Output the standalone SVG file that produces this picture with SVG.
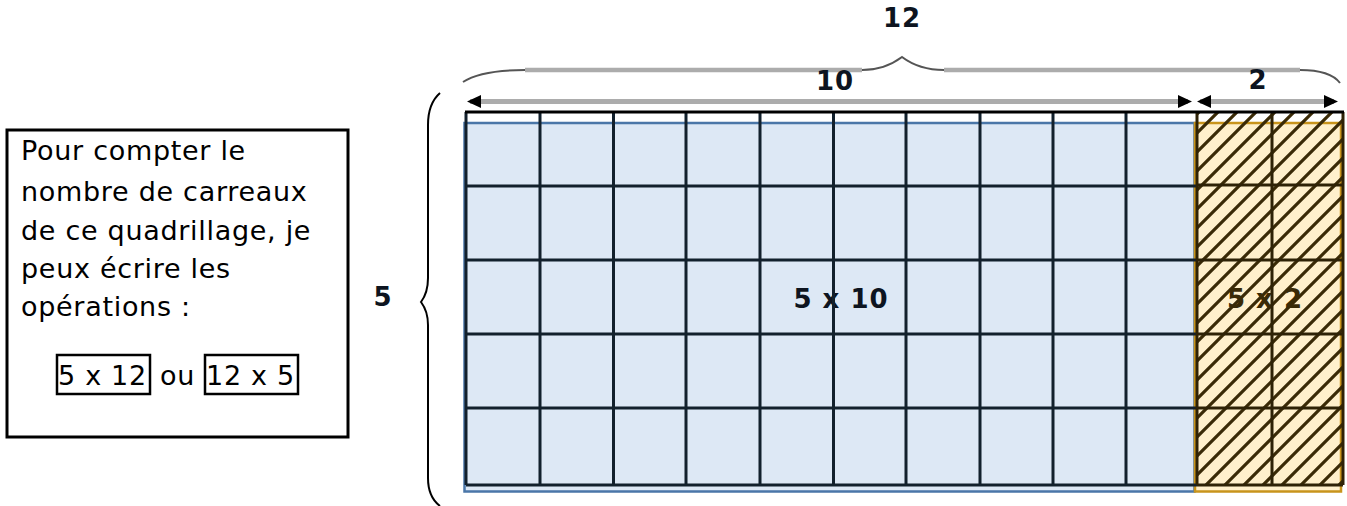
<svg xmlns="http://www.w3.org/2000/svg" width="1347" height="506" viewBox="0 0 1347 506">
<style>
.t{font-family:"DejaVu Sans",Verdana,sans-serif;font-size:27px;fill:#000;letter-spacing:0.7px}
.b{font-family:"DejaVu Sans",Verdana,sans-serif;font-size:26px;font-weight:bold;fill:#0d1420;letter-spacing:1px}
.g{stroke:#12202c;stroke-width:3;fill:none}
.gh{stroke:#2e2206;stroke-width:3;fill:none}
.dim{stroke:#acacac;stroke-width:5;fill:none}
.ah{fill:#000}
</style>
<defs>
<pattern id="hatch" patternUnits="userSpaceOnUse" width="19" height="19">
<path d="M-3,3 L3,-3 M0,19 L19,0 M16,22 L22,16" stroke="#3a2a06" stroke-width="3.2"/>
</pattern>
</defs>
<g id="textbox">
<rect x="7" y="130" width="341" height="307" fill="#fff" stroke="#000" stroke-width="3"/>
<text class="t" x="21" y="160">Pour compter le</text>
<text class="t" x="21" y="201">nombre de carreaux</text>
<text class="t" x="21" y="240">de ce quadrillage, je</text>
<text class="t" x="21" y="278">peux écrire les</text>
<text class="t" x="21" y="316">opérations :</text>
<rect x="57" y="355" width="93" height="39" fill="none" stroke="#000" stroke-width="2.5"/>
<text class="t" x="58" y="385">5 x 12</text>
<text class="t" x="160" y="385">ou</text>
<rect x="205" y="355" width="93" height="39" fill="none" stroke="#000" stroke-width="2.5"/>
<text class="t" x="206" y="385">12 x 5</text>
</g>
<g id="blue-area">
<rect x="464.5" y="123" width="730" height="368.5" fill="#dde8f5" stroke="#4a76a8" stroke-width="2.5"/>
<text class="b" x="841" y="308" text-anchor="middle">5 x 10</text>
</g>
<g id="hatched-area">
<rect x="1195" y="123" width="146" height="368.5" fill="#fff0cc" stroke="#c8941c" stroke-width="2.5"/>
<text class="b" x="1265" y="308" text-anchor="middle" style="fill:#3a2a06">5 x 2</text>
<rect x="1197" y="112" width="146" height="373" fill="url(#hatch)"/>
</g>
<g id="grid">
<path class="g" d="M466,112 V485 M540,112 V485 M613.5,112 V485 M686,112 V485 M760,112 V485 M833.5,112 V485 M906,112 V485 M980,112 V485 M1053,112 V485 M1126,112 V485"/>
<path class="g" d="M466,186 H1197 M466,260 H1197 M466,334 H1197 M466,408 H1197 M466,485 H1197"/>
<path class="gh" d="M1197,112 V485 M1272,112 V485 M1343,112 V485 M1197,185 H1343 M1197,260 H1343 M1197,334 H1343 M1197,408 H1343 M1197,485 H1343"/>
<path d="M465,112 H1344" stroke="#000" stroke-width="3"/>
</g>
<g id="connectors">
<path class="dim" d="M470,101.5 H1188"/>
<path class="ah" d="M467,101.5 L481,95 L481,108 Z"/>
<path class="ah" d="M1192,101.5 L1178,95 L1178,108 Z"/>
<path class="dim" d="M1200,101.5 H1334"/>
<path class="ah" d="M1197,101.5 L1211,95 L1211,108 Z"/>
<path class="ah" d="M1338,101.5 L1324,95 L1324,108 Z"/>
<path d="M525,70 H862 M944,70 H1300" stroke="#acacac" stroke-width="4.5" fill="none"/>
<path d="M463,82 C475,74 498,70 525,70 M862,70 C880,70 894,63 902,57 C910,63 924,70 944,70 M1300,70 C1320,70 1334,75 1340,83" stroke="#555" stroke-width="2" fill="none"/>
<path d="M440,93 C432,100 428,110 428,125 L428,278 C428,290 424,298 421,302 C424,306 428,314 428,325 L428,478 C428,492 432,500 440,506" stroke="#000" stroke-width="2" fill="none"/>
</g>
<g id="labels">
<text class="b" x="902" y="27" text-anchor="middle">12</text>
<text class="b" x="835" y="90" text-anchor="middle">10</text>
<text class="b" x="1258" y="89" text-anchor="middle">2</text>
<text class="b" x="383" y="306" text-anchor="middle">5</text>
</g>
</svg>
